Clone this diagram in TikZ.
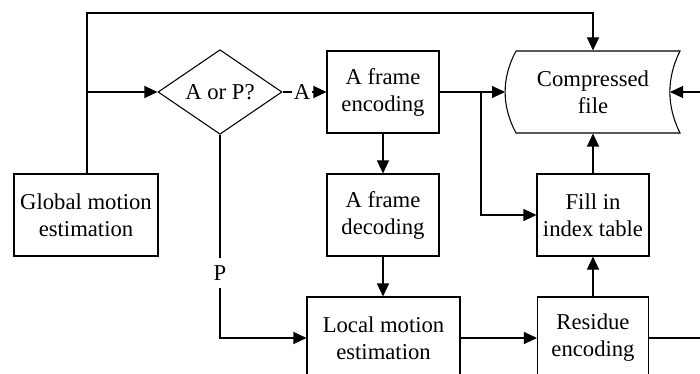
\documentclass[tikz,border=0pt]{standalone}
\usepackage{fontspec}
\setmainfont{Liberation Serif}
\usetikzlibrary{arrows.meta,shapes.geometric}

\begin{document}
\begin{tikzpicture}[x=0.75pt,y=-0.75pt,
  line width=0.8pt,
  font=\fontsize{17}{20.25}\selectfont,
  arr/.style={-{Triangle[length=9.75pt,width=9pt]}},
  blk/.style={draw,rectangle,align=center,inner sep=0pt,minimum height=61.5pt},
  decide/.style={draw,diamond,inner sep=0pt,minimum width=93pt,minimum height=60.75pt},
  lbl/.style={fill=white,inner sep=1.2pt}]

\clip (0,0) rectangle (700,374);

% processing blocks
\node[blk,minimum width=108pt] (glob) at (86,215) {Global motion\\estimation};
\node[decide] (dia) at (220,92) {A or P?};
\node[blk,minimum width=84pt] (aenc) at (383,92) {A frame\\encoding};
\node[blk,minimum width=84pt] (adec) at (383,215) {A frame\\decoding};
\node[blk,minimum width=114.75pt] (lme) at (383.5,338) {Local motion\\estimation};
\node[blk,minimum width=83.25pt] (res) at (593,338) {Residue\\encoding};
\node[blk,minimum width=84pt] (fill) at (593,215) {Fill in\\index table};

% stored-data symbol for the output file
\node[align=center,inner sep=0pt,minimum width=123pt,minimum height=61.5pt] (comp) at (593,92) {Compressed\\file};
\draw (516,51) -- (680,51)
      .. controls (666.5,78) and (666.5,106) .. (680,133)
      -- (516,133)
      .. controls (501.5,106) and (501.5,78) .. (516,51);
\coordinate (compW) at (505,92);
\coordinate (compE) at (670,92);

% branch labels
\node[lbl] (alab) at (302,92) {A};
\node[lbl,inner sep=5pt] (plab) at (220,273) {P};

% helper points
\coordinate (top) at (87,13);
\coordinate (j1) at (87,92);
\coordinate (br) at (481,92);
\coordinate (rin) at (700,92);
\coordinate (rout) at (700,338);

% connectors
\draw[arr] (glob.north -| top) -- (top) -| (comp.north);
\draw[arr] (j1) -- (dia.west);
\draw (dia.east) -- (alab);
\draw[arr] (alab) -- (aenc.west);
\draw (dia.south) -- (plab);
\draw[arr] (plab) |- (lme.west);
\draw[arr] (aenc.south) -- (adec.north);
\draw[arr] (adec.south) -- (lme.north -| adec.south);
\draw (aenc.east) -- (br);
\draw[arr] (br) -- (compW);
\draw[arr] (br) |- (fill.west);
\draw[arr] (lme.east) -- (res.west);
\draw[arr] (res.north) -- (fill.south);
\draw[arr] (fill.north) -- (comp.south);
\draw (res.east) -- (rout);
\draw[arr] (rin) -- (compE);
\end{tikzpicture}
\end{document}
